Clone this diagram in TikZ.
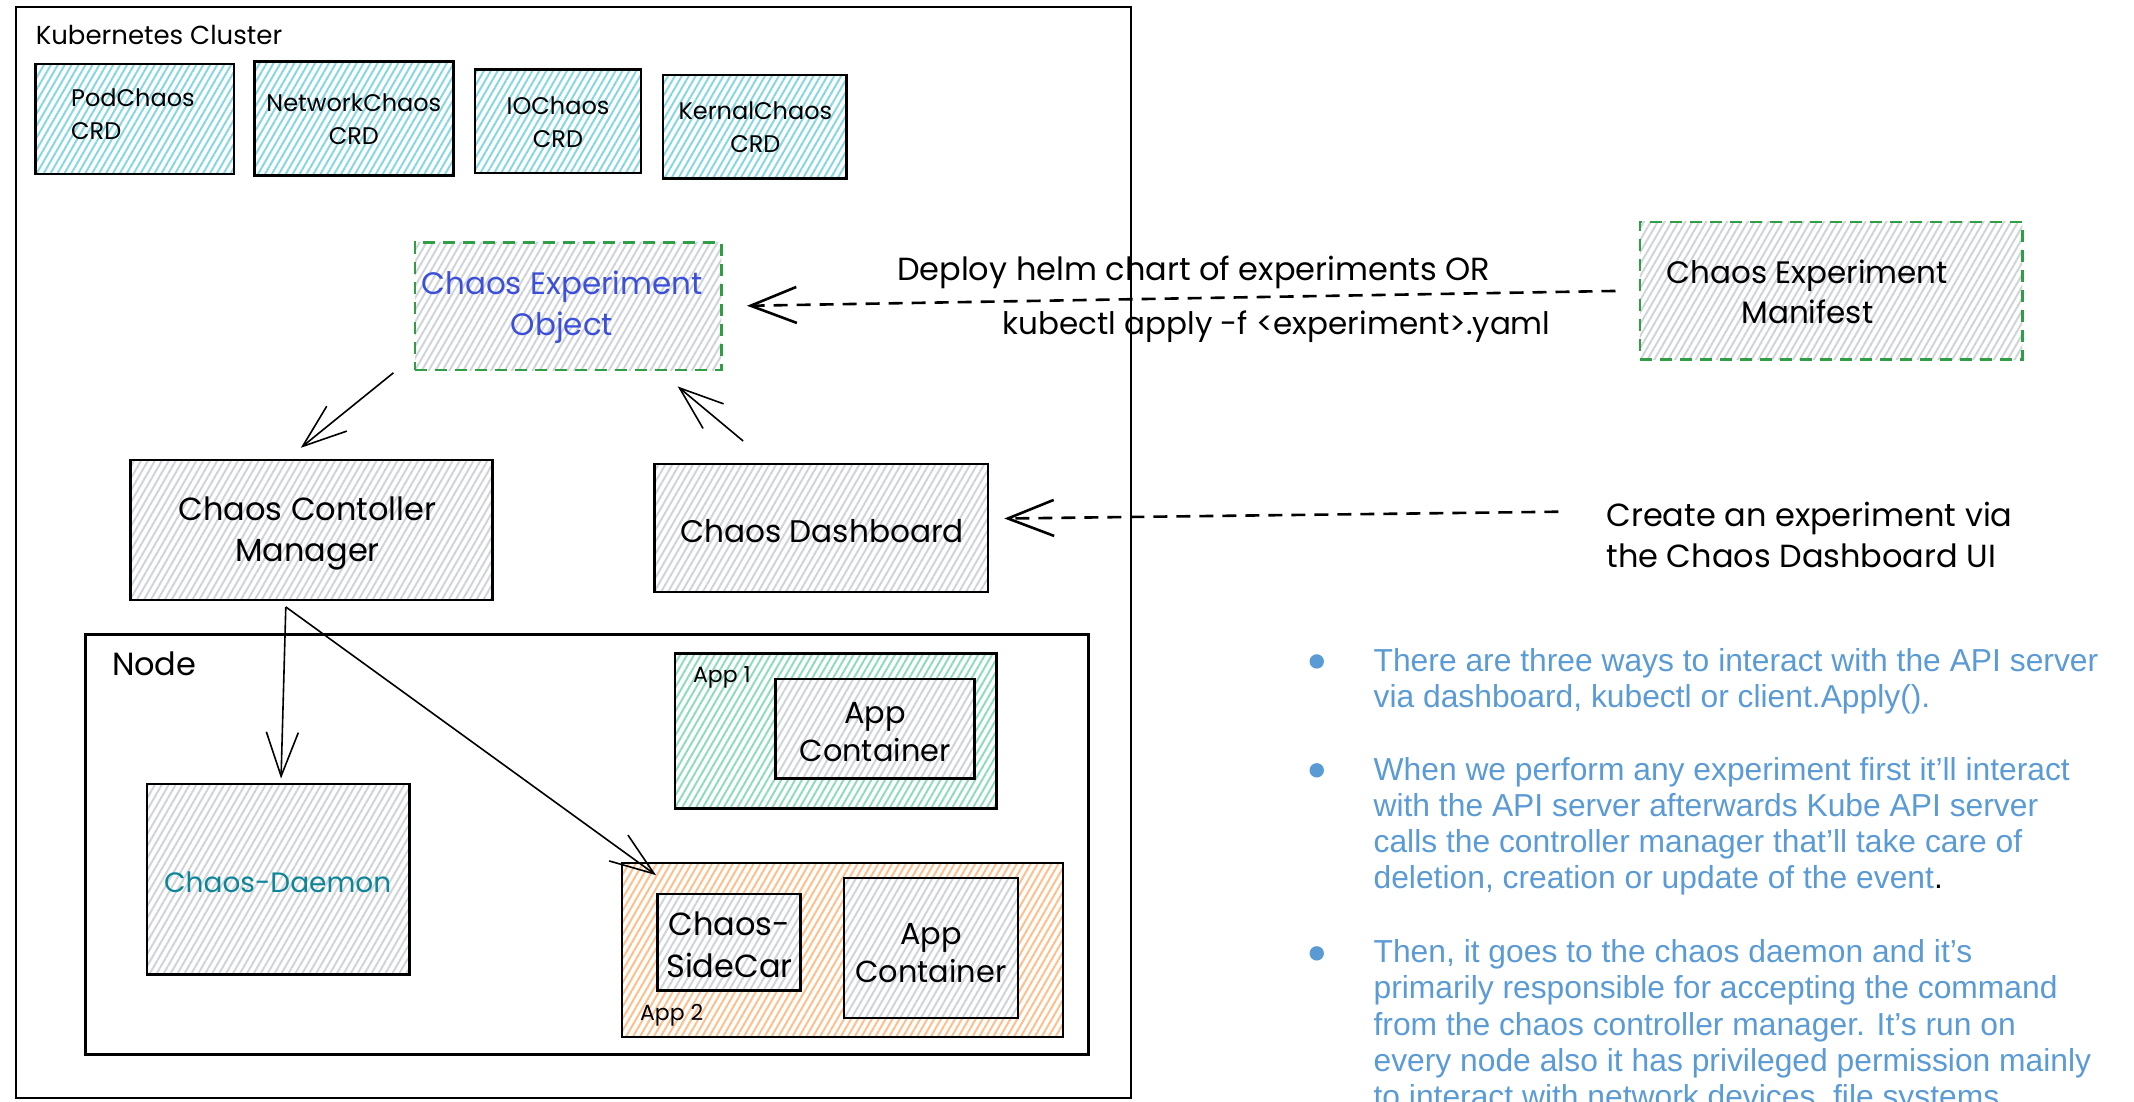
\documentclass[tikz,border=0pt]{standalone}
\usepackage{fontspec}
\setmainfont{Liberation Sans}
\newfontfamily\hw{Poppins}
\usetikzlibrary{patterns.meta,arrows.meta,fit,calc}
\definecolor{cyanh}{HTML}{86D6E4}
\definecolor{grayh}{HTML}{D0D4D9}
\definecolor{greenh}{HTML}{8EDCBC}
\definecolor{orangeh}{HTML}{FFBE8A}
\definecolor{dgreen}{HTML}{2F9E44}
\definecolor{objblue}{HTML}{3B4FD9}
\definecolor{dteal}{HTML}{0C8599}
\definecolor{bblue}{HTML}{5B9BD5}
\tikzset{
  hatch/.style={pattern={Lines[angle=60,distance=3pt,line width=1pt]}, pattern color=#1},
  box/.style={draw=black, line width=1.3pt, inner sep=0pt},
  crdbox/.style={box, hatch=cyanh},
  graybox/.style={box, hatch=grayh},
  innerbox/.style={box, preaction={fill=white}, hatch=grayh},
  dashbox/.style={box, draw=dgreen, dash pattern=on 6pt off 4pt, hatch=grayh},
  frame/.style={draw=black, line width=1.1pt, inner sep=0pt},
  hwtext/.style={font=\hw\fontsize{16}{20.4}\selectfont, inner sep=0pt, align=center},
  crdtext/.style={font=\hw\fontsize{12}{16.3}\selectfont, inner sep=0pt, align=center},
  smalltext/.style={font=\hw\fontsize{11}{13}\selectfont, inner sep=0pt},
  conn/.style={line width=0.8pt, -{Straight Barb[length=22pt,width=16pt]}},
  dconn/.style={line width=1.3pt, dash pattern=on 7pt off 4.5pt, -{Straight Barb[length=23pt,width=18pt]}},
  bul/.style={font=\fontsize{15.9}{18}\selectfont, text=bblue, inner sep=0pt, anchor=base west},
  dot/.style={circle, fill=bblue, minimum size=7.2pt, inner sep=0pt}
}
\begin{document}
\begin{tikzpicture}[x=0.6805pt,y=-0.6805pt]
\useasboundingbox (0,0) rectangle (1568,809);
% cluster
\node (cluster) [frame, fit={(12,5)(831,807)}] {};
\node (clusterlbl) [smalltext, font=\hw\fontsize{13}{15}\selectfont, anchor=west] at (26,26) {Kubernetes Cluster};
% CRDs
\node (pod) [crdbox, fit={(26,47)(172,128)}] {};
\node (podlbl) [crdtext, align=left, anchor=west] at (52,84) {PodChaos\\CRD};
\node (net) [crdbox, fit={(187,45)(333,129)}] {};
\node (netlbl) [crdtext] at (260,87.5) {NetworkChaos\\CRD};
\node (io) [crdbox, fit={(349,51)(471,127)}] {};
\node (iolbl) [crdtext] at (410,90) {IOChaos\\CRD};
\node (kern) [crdbox, fit={(487,55)(622,131)}] {};
\node (kernlbl) [crdtext] at (555,93.5) {KernalChaos\\CRD};
% experiment object & manifest
\node (obj) [dashbox, fit={(305,178)(530,272)}] {};
\node (objlbl) [hwtext, font=\hw\fontsize{15.5}{20.4}\selectfont, text=objblue] at (413,226) {Chaos Experiment\\Object};
\node (manifest) [dashbox, fit={(1205,163)(1486,264)}] {};
\node (maniflbl) [hwtext, font=\hw\fontsize{15.5}{20.4}\selectfont] at (1328,214.5) {Chaos Experiment\\Manifest};
\node (deploylbl) [hwtext] at (877,200) {Deploy helm chart of experiments OR};
\node (kubectllbl) [hwtext, font=\hw\fontsize{15.5}{20.4}\selectfont] at (938,240) {kubectl apply -f <experiment>.yaml};
% manager & dashboard
\node (mgr) [graybox, fit={(96,338)(362,441)}] {};
\node (mgrlbl) [hwtext] at (226,392) {Chaos Contoller\\Manager};
\node (dash) [graybox, fit={(481,341)(726,435)}] {};
\node (dashlbl) [hwtext, font=\hw\fontsize{15.6}{20.4}\selectfont] at (604,390) {Chaos Dashboard};
\node (createlbl) [hwtext, align=left, anchor=west] at (1180,393) {Create an experiment via\\the Chaos Dashboard UI};
% node frame
\node (nodeframe) [frame, line width=1.3pt, fit={(63,466)(800,775)}] {};
\node (nodelbl) [hwtext, anchor=west] at (82,488) {Node};
\node (app1) [box, hatch=greenh, fit={(496,480)(732,594)}] {};
\node (app1lbl) [smalltext, anchor=west] at (509,498) {App 1};
\node (cont1) [innerbox, fit={(570,499)(716,572)}] {};
\node (cont1lbl) [hwtext, font=\hw\fontsize{15.2}{19}\selectfont] at (643,538) {App\\Container};
\node (daemon) [graybox, fit={(108,576)(301,716)}] {};
\node (daemonlbl) [hwtext, font=\hw\fontsize{14}{18}\selectfont, text=dteal] at (204,648) {Chaos-Daemon};
\node (app2) [box, hatch=orangeh, fit={(457,634)(781,762)}] {};
\node (app2lbl) [smalltext, anchor=west] at (470,746) {App 2};
\node (sidecar) [innerbox, fit={(483,657)(588,728)}] {};
\node (sidecarlbl) [hwtext, font=\hw\fontsize{16}{21}\selectfont] at (536,694.5) {Chaos-\\SideCar};
\node (cont2) [innerbox, fit={(620,645)(748,748)}] {};
\node (cont2lbl) [hwtext, font=\hw\fontsize{15.2}{19}\selectfont] at (684,700) {App\\Container};
% connectors
\draw[dconn, shorten <=11.6pt, shorten >=12.2pt] (manifest.west) -- (obj.east);
\draw[dconn] ($(createlbl.west)+(-35,-17)$) -- ($(dash.east)+(11,-7)$);
\draw[conn] ($(obj.south west)+(-15,1)$) -- ($(mgr.north)+(-8,-8)$);
\draw[conn] ($(dash.north west)+(66,-16)$) -- ($(obj.south east)+(-33,11)$);
\draw[conn] ($(mgr.south)+(-19,4)$) -- ($(daemon.north)+(2,-3)$);
\draw[conn] ($(mgr.south)+(-19,4)$) -- ($(app2.north west)+(26,10)$);
% bullets
\node (d1) [dot] at (967.5,486) {};
\node (d2) [dot] at (967.5,566) {};
\node (d3) [dot] at (967.5,700.5) {};
\node (t11) [bul] at (1009,493.5) {There are three ways to interact with the API server};
\node (t12) [bul] at (1009,520) {via dashboard, kubectl or client.Apply().};
\node (t21) [bul] at (1009,573.5) {When we perform any experiment first it’ll interact};
\node (t22) [bul] at (1009,600) {with the API server afterwards Kube API server};
\node (t23) [bul] at (1009,626.5) {calls the controller manager that’ll take care of};
\node (t24) [bul] at (1009,653) {deletion, creation or update of the event{\color{black}.}};
\node (t31) [bul] at (1009,707.5) {Then, it goes to the chaos daemon and it’s};
\node (t32) [bul] at (1009,734) {primarily responsible for accepting the command};
\node (t33) [bul] at (1009,760.5) {from the chaos controller manager. It’s run on};
\node (t34) [bul] at (1009,787) {every node also it has privileged permission mainly};
\node (t35) [bul] at (1009,813.5) {to interact with network devices, file systems};
\end{tikzpicture}
\end{document}
